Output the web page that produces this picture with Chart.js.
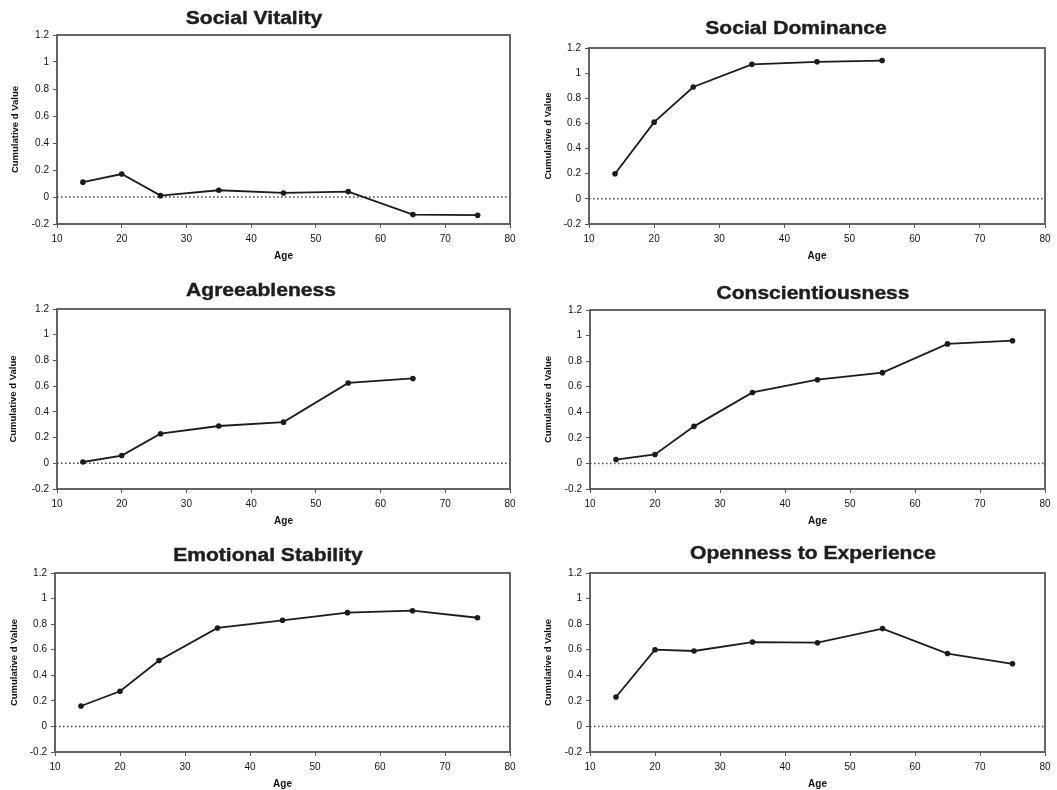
<!DOCTYPE html>
<html>
<head>
<meta charset="utf-8">
<script src="https://cdn.jsdelivr.net/npm/chart.js@4.4.1/dist/chart.umd.min.js"></script>
<style>
  body { margin: 0; background: #fff; width: 1057px; height: 790px; overflow: hidden; position: relative; font-family: "Liberation Sans", Arial, sans-serif; }
  .panel { position: absolute; }
  .title { position: absolute; width: 400px; text-align: center; font-weight: bold; font-size: 18px; line-height: 20px; color: #1e1e1e; -webkit-text-stroke: 0.4px #1e1e1e; transform: scaleX(1.17); }
</style>
</head>
<body>
<script>
const ages = [14, 20, 26, 35, 45, 55, 65, 75];

const socialVitality = [0.11, 0.17, 0.01, 0.05, 0.03, 0.04, -0.13, -0.135];
const socialDominance = [0.2, 0.61, 0.89, 1.07, 1.09, 1.1];
const agreeableness = [0.01, 0.06, 0.23, 0.29, 0.32, 0.625, 0.66];
const conscientiousness = [0.03, 0.07, 0.29, 0.555, 0.655, 0.71, 0.935, 0.96];
const emotionalStability = [0.16, 0.275, 0.515, 0.77, 0.83, 0.89, 0.905, 0.85];
const openness = [0.23, 0.6, 0.59, 0.66, 0.655, 0.765, 0.57, 0.49];

const xMin = 10, xMax = 80, xStep = 10;
const yMin = -0.2, yMax = 1.2, yStep = 0.2;

const xTitle = "Age";
const yTitle = "Cumulative d Value";

// layout of the six panels (positions only, no data)
const panels = [
  { title: "Social Vitality", values: socialVitality, left: 0, top: 0, w: 527, h: 262, padTop: 35, padRight: 17, yW: 57, yTitlePad: 10, tx: 254, ty: 18 },
  { title: "Social Dominance", values: socialDominance, left: 527, top: 0, w: 530, h: 262, padTop: 48, padRight: 12, yW: 62, yTitlePad: 16, tx: 796, ty: 28 },
  { title: "Agreeableness", values: agreeableness, left: 0, top: 262, w: 527, h: 265, padTop: 47, padRight: 17, yW: 57, yTitlePad: 8, tx: 261, ty: 290 },
  { title: "Conscientiousness", values: conscientiousness, left: 527, top: 262, w: 530, h: 265, padTop: 48, padRight: 12, yW: 63, yTitlePad: 16, tx: 813, ty: 293 },
  { title: "Emotional Stability", values: emotionalStability, left: 0, top: 525, w: 527, h: 265, padTop: 48, padRight: 17, yW: 55, yTitlePad: 9, tx: 268, ty: 555 },
  { title: "Openness to Experience", values: openness, left: 527, top: 525, w: 530, h: 265, padTop: 48, padRight: 12, yW: 63, yTitlePad: 16, tx: 813, ty: 553 },
];

Chart.defaults.font.family = "'Liberation Sans', Arial, sans-serif";

const zeroLine = {
  id: "zeroLine",
  beforeDatasetsDraw(chart) {
    const { ctx, chartArea: a, scales: { y } } = chart;
    const py = y.getPixelForValue(0);
    ctx.save();
    ctx.strokeStyle = "#444";
    ctx.lineWidth = 1.5;
    ctx.setLineDash([1.5, 2.5]);
    ctx.beginPath();
    ctx.moveTo(a.left, py);
    ctx.lineTo(a.right, py);
    ctx.stroke();
    ctx.restore();
  },
};

const frame = {
  id: "frame",
  beforeDatasetsDraw(chart) {
    const { ctx, chartArea: a } = chart;
    ctx.save();
    ctx.strokeStyle = "#555";
    ctx.lineWidth = 1.8;
    ctx.strokeRect(a.left, a.top, a.right - a.left, a.bottom - a.top);
    ctx.restore();
  },
};

panels.forEach((p) => {
  const box = document.createElement("div");
  box.className = "panel";
  box.style.left = p.left + "px";
  box.style.top = p.top + "px";
  box.style.width = p.w + "px";
  box.style.height = p.h + "px";
  const canvas = document.createElement("canvas");
  box.appendChild(canvas);
  document.body.appendChild(box);

  const t = document.createElement("div");
  t.className = "title";
  t.textContent = p.title;
  t.style.left = p.tx - 200 + "px";
  t.style.top = p.ty - 10 + "px";
  document.body.appendChild(t);

  new Chart(canvas, {
    type: "line",
    data: {
      datasets: [
        {
          data: p.values.map((v, i) => ({ x: ages[i], y: v })),
          borderColor: "#1b1b1b",
          backgroundColor: "#1b1b1b",
          borderWidth: 1.8,
          pointRadius: 2.8,
          pointBorderWidth: 0,
          tension: 0,
        },
      ],
    },
    options: {
      responsive: true,
      maintainAspectRatio: false,
      animation: false,
      devicePixelRatio: 1,
      layout: { padding: { left: 0, top: p.padTop, right: p.padRight, bottom: 0 } },
      plugins: { legend: { display: false }, tooltip: { enabled: false } },
      scales: {
        x: {
          type: "linear",
          min: xMin,
          max: xMax,
          afterFit: (s) => { s.height = 38; },
          ticks: { stepSize: xStep, color: "#111", font: { size: 10 }, padding: 5, maxRotation: 0 },
          grid: { drawOnChartArea: false, drawTicks: true, tickLength: 4, tickColor: "#555" },
          border: { display: false },
          title: { display: true, text: xTitle, color: "#111", font: { size: 10, weight: "bold" }, padding: { top: 0, bottom: 0 } },
        },
        y: {
          min: yMin,
          max: yMax,
          afterFit: (s) => { s.width = p.yW; },
          ticks: {
            stepSize: yStep,
            color: "#111",
            font: { size: 10 },
            padding: 4,
            callback: (v) => String(parseFloat(v.toFixed(1))),
          },
          grid: { drawOnChartArea: false, drawTicks: true, tickLength: 4, tickColor: "#555" },
          border: { display: false },
          title: { display: true, text: yTitle, color: "#111", font: { size: 9.5, weight: "bold" }, padding: { top: p.yTitlePad, bottom: 0 } },
        },
      },
    },
    plugins: [frame, zeroLine],
  });
});
</script>
</body>
</html>
